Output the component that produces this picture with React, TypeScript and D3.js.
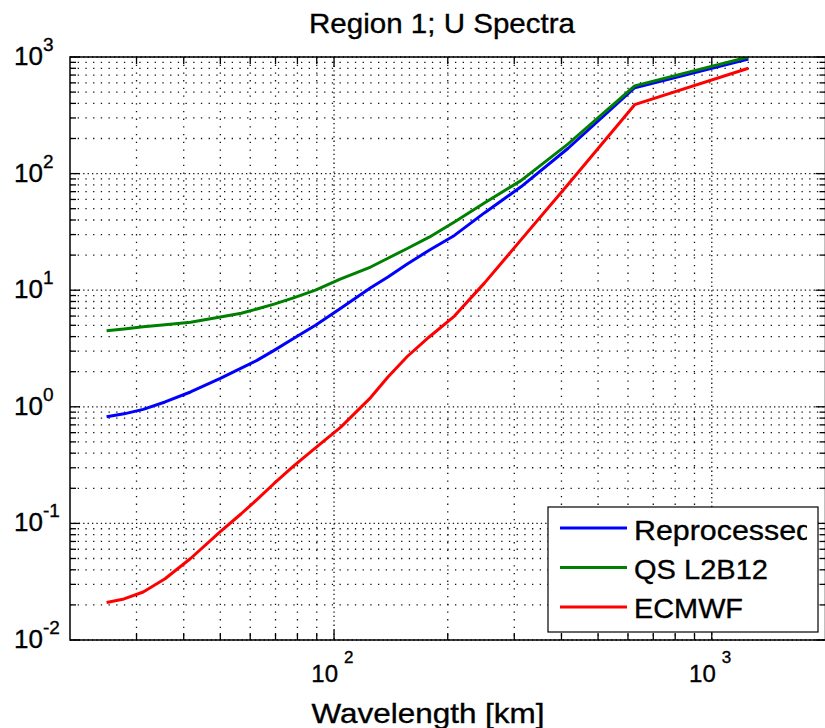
import * as d3 from "d3";

// wavelengths are 1250/k km
const wavelengths = [25, 27.8, 31.25, 35.7, 41.7, 50, 56.8, 62.5, 69.4, 78.1, 89.3, 104.2, 125, 138.9, 156.25, 178.6, 208.3, 250, 312.5, 416.7, 625, 1250];
const reprocessed = [0.82, 0.87, 0.95, 1.1, 1.34, 1.75, 2.15, 2.5, 3.05, 3.85, 5.0, 7.0, 10.5, 13.0, 16.8, 22, 29.5, 46, 77, 165, 545, 960];
const qsL2B12 = [4.5, 4.65, 4.85, 5.05, 5.3, 5.9, 6.35, 6.9, 7.6, 8.6, 10.0, 12.5, 15.8, 18.8, 22.8, 28.5, 38.5, 56, 87, 180, 565, 1000];
const ecmwf = [0.021, 0.0225, 0.0258, 0.0335, 0.05, 0.085, 0.121, 0.16, 0.22, 0.31, 0.445, 0.67, 1.2, 1.8, 2.7, 3.97, 6.0, 11.5, 27, 81, 390, 800];

const seriesNames = ["Reprocessed", "QS L2B12", "ECMWF"];
const seriesColors = ["#0000ff", "#008000", "#ff0000"];
const legendWidths = [179, 134, 109];
const xDecades = [2, 3];
const yDecades = [-2, -1, 0, 1, 2, 3];

const W = 825;
const H = 728;
const margin = { top: 57, right: 0, bottom: 88, left: 70 };
const plotW = 755.5;
const plotH = H - margin.top - margin.bottom;

export default function App() {
  const x = d3.scaleLog().domain([20, 2000]).range([0, plotW]);
  const y = d3.scaleLog().domain([0.01, 1000]).range([plotH, 0]);

  const series = [reprocessed, qsL2B12, ecmwf];
  const line = d3
    .line<[number, number]>()
    .x((d) => x(d[0]))
    .y((d) => y(d[1]));

  // minor grid values
  const xMinor: number[] = [];
  [10, 100, 1000].forEach((base) => {
    for (let m = 2; m <= 9; m++) {
      const v = base * m;
      if (v > 20 && v < 2000) xMinor.push(v);
    }
  });
  const yMinor: number[] = [];
  [0.01, 0.1, 1, 10, 100].forEach((base) => {
    for (let m = 2; m <= 9; m++) yMinor.push(base * m);
  });
  const xMajor = xDecades.map((e) => Math.pow(10, e));
  const yMajor = yDecades.map((e) => Math.pow(10, e));

  const font = "'Liberation Sans', Arial, Helvetica, sans-serif";
  const gridColor = "#111";
  const textStroke = { stroke: "#000", strokeWidth: 0.35 };

  return (
    <svg width={W} height={H} style={{ position: "absolute", left: 0, top: 0, background: "#fff" }} fontFamily={font}>
      <defs>
        <clipPath id="plot-clip">
          <rect x={0} y={0} width={plotW} height={plotH} />
        </clipPath>
        <clipPath id="legend-clip">
          <rect x={549} y={508} width={258} height={123} />
        </clipPath>
      </defs>
      <rect x={0} y={0} width={W} height={H} fill="#fff" />

      <text x={442} y={33} textAnchor="middle" fontSize={28} textLength={266} lengthAdjust="spacingAndGlyphs" fill="#000" {...textStroke}>
        Region 1; U Spectra
      </text>

      <g transform={`translate(${margin.left},${margin.top})`}>
        {/* grid */}
        {xMinor.map((v) => (
          <line key={`gx${v}`} x1={x(v)} x2={x(v)} y1={0} y2={plotH} stroke={gridColor} strokeWidth={1.3} strokeDasharray="1.3,6.4" />
        ))}
        {xMajor.map((v) => (
          <line key={`gX${v}`} x1={x(v)} x2={x(v)} y1={0} y2={plotH} stroke={gridColor} strokeWidth={1.3} strokeDasharray="1.3,3.1" />
        ))}
        {yMinor.map((v) => (
          <line key={`gy${v}`} x1={0} x2={plotW} y1={y(v)} y2={y(v)} stroke={gridColor} strokeWidth={1.3} strokeDasharray="1.3,6.4" />
        ))}
        {yMajor.map((v) => (
          <line key={`gY${v}`} x1={0} x2={plotW} y1={y(v)} y2={y(v)} stroke={gridColor} strokeWidth={1.3} strokeDasharray="1.3,3.1" />
        ))}

        {/* ticks on all four sides */}
        {xMinor.concat(xMajor).map((v) => {
          const len = xMajor.includes(v) ? 10 : 7;
          return (
            <g key={`tx${v}`} stroke="#000" strokeWidth={1.3}>
              <line x1={x(v)} x2={x(v)} y1={plotH} y2={plotH - len} />
              <line x1={x(v)} x2={x(v)} y1={0} y2={len} />
            </g>
          );
        })}
        {yMinor.concat(yMajor).map((v) => {
          const len = yMajor.includes(v) ? 10 : 6;
          return (
            <g key={`ty${v}`} stroke="#000" strokeWidth={1.3}>
              <line x1={0} x2={len} y1={y(v)} y2={y(v)} />
              <line x1={plotW} x2={plotW - len} y1={y(v)} y2={y(v)} />
            </g>
          );
        })}

        {/* series */}
        <g clipPath="url(#plot-clip)">
          {series.map((vals, i) => (
            <path
              key={seriesNames[i]}
              d={line(wavelengths.map((w, j) => [w, vals[j]] as [number, number])) ?? ""}
              fill="none"
              stroke={seriesColors[i]}
              strokeWidth={3}
              strokeLinejoin="round"
              strokeLinecap="butt"
            />
          ))}
        </g>

        {/* box */}
        <rect x={0} y={0} width={plotW} height={plotH} fill="none" stroke="#000" strokeWidth={1.5} />

        {/* y tick labels */}
        {yDecades.map((e) => (
          <g key={`ly${e}`} fill="#000" {...textStroke}>
            <text x={-27} y={y(Math.pow(10, e)) + 8} textAnchor="end" fontSize={26}>
              10
            </text>
            <text x={-27} y={y(Math.pow(10, e)) - 6} textAnchor="start" fontSize={19}>
              {e}
            </text>
          </g>
        ))}

        {/* x tick labels */}
        {xDecades.map((e) => (
          <g key={`lx${e}`} fill="#000" {...textStroke}>
            <text x={x(Math.pow(10, e)) + 4} y={plotH + 41.5} textAnchor="end" fontSize={24}>
              10
            </text>
            <text x={x(Math.pow(10, e)) + 10} y={plotH + 22.5} textAnchor="start" fontSize={17}>
              {e}
            </text>
          </g>
        ))}
      </g>

      <text x={428} y={723} textAnchor="middle" fontSize={28} textLength={233} lengthAdjust="spacingAndGlyphs" fill="#000" {...textStroke}>
        Wavelength [km]
      </text>

      {/* legend */}
      <rect x={548} y={507} width={270} height={125} fill="#fff" stroke="#000" strokeWidth={1.2} />
      <g clipPath="url(#legend-clip)">
        {seriesNames.map((name, i) => (
          <g key={`lg${name}`}>
            <line x1={560} x2={627} y1={528 + i * 39.5} y2={528 + i * 39.5} stroke={seriesColors[i]} strokeWidth={3} />
            <text
              x={634}
              y={540 + i * 39.2}
              fontSize={28.5}
              fill="#000"
              textLength={legendWidths[i]}
              lengthAdjust="spacingAndGlyphs"
              {...textStroke}
            >
              {name}
            </text>
          </g>
        ))}
      </g>
    </svg>
  );
}
